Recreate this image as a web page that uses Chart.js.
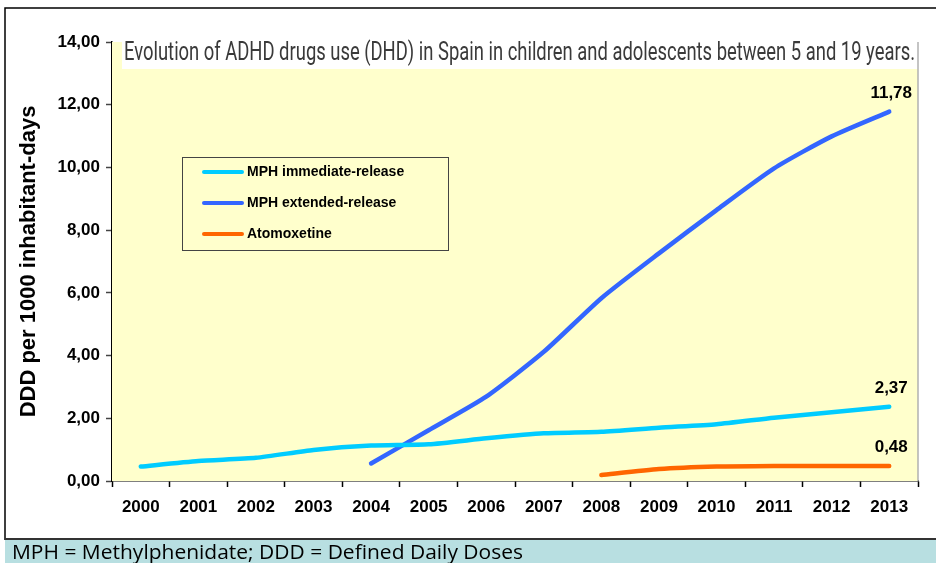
<!DOCTYPE html>
<html lang="en">
<head>
  <meta charset="UTF-8">
  <title>ADHD drugs use in Spain</title>
  <script src="https://cdn.jsdelivr.net/npm/chart.js"></script>
  <style>
    body {
      margin: 0;
      background: #fff;
    }
    #wrap {
      width: 936px;
      height: 563px;
      position: relative;
    }
  </style>
</head>
<body>
  <div id="wrap"><canvas id="adhdChart" width="936" height="563"></canvas></div>

  <script>
    const years = ['2000', '2001', '2002', '2003', '2004', '2005', '2006', '2007', '2008', '2009', '2010', '2011', '2012', '2013'];
    const mphImmediate = [0.46, 0.64, 0.74, 0.99, 1.13, 1.17, 1.36, 1.52, 1.57, 1.70, 1.81, 2.02, 2.19, 2.37];
    const mphExtended = [null, null, null, null, 0.56, 1.62, 2.69, 4.12, 5.83, 7.26, 8.64, 9.97, 10.99, 11.78];
    const atomoxetine = [null, null, null, null, null, null, null, null, 0.19, 0.38, 0.46, 0.48, 0.48, 0.48];
    const seriesNames = ['MPH immediate-release', 'MPH extended-release', 'Atomoxetine'];
    const titleText = 'Evolution of ADHD drugs use (DHD) in Spain in children and adolescents between 5 and 19 years.';
    const footerText = 'MPH = Methylphenidate; DDD = Defined Daily Doses';

    const comma = v => v.toFixed(2).replace('.', ',');

    // draws background, title box, legend box, end labels and the frame
    const decor = {
      id: 'decor',
      beforeDatasetsDraw(chart) {
        const ctx = chart.ctx, a = chart.chartArea;
        ctx.save();
        ctx.fillStyle = '#FFFFCC';
        ctx.fillRect(a.left, a.top, a.right - a.left, a.bottom - a.top);
        // title box
        ctx.fillStyle = '#fff';
        ctx.fillRect(a.left + 10, 26, a.right - a.left - 10, 43);
        // right border of plot
        ctx.strokeStyle = '#b0b0b0';
        ctx.lineWidth = 1.5;
        ctx.beginPath();
        ctx.moveTo(a.right, a.top);
        ctx.lineTo(a.right, a.bottom);
        ctx.stroke();
        // title, squeezed to width
        ctx.font = '26px Roboto';
        ctx.fillStyle = '#3a3a3a';
        ctx.textBaseline = 'alphabetic';
        const w = ctx.measureText(titleText).width;
        ctx.translate(124, 60);
        ctx.scale(791 / w, 1);
        ctx.fillText(titleText, 0, 0);
        ctx.restore();

        // legend
        ctx.save();
        ctx.strokeStyle = '#444';
        ctx.lineWidth = 1;
        ctx.strokeRect(182.5, 157.5, 266, 93);
        ctx.font = 'bold 14px "Liberation Sans", Arial';
        ctx.textBaseline = 'middle';
        chart.data.datasets.forEach((ds, i) => {
          const y = 172 + i * 31;
          ctx.strokeStyle = ds.borderColor;
          ctx.lineWidth = 4;
          ctx.lineCap = 'round';
          ctx.beginPath();
          ctx.moveTo(204, y);
          ctx.lineTo(242, y);
          ctx.stroke();
          ctx.fillStyle = '#000';
          ctx.fillText(ds.label, 247, y);
        });
        ctx.restore();
      },
      afterDatasetsDraw(chart) {
        const ctx = chart.ctx;
        ctx.save();
        ctx.font = 'bold 17px "Liberation Sans", Arial';
        ctx.fillStyle = '#000';
        ctx.textAlign = 'center';
        ctx.textBaseline = 'bottom';
        chart.data.datasets.forEach((ds, i) => {
          const meta = chart.getDatasetMeta(i);
          const last = ds.data.length - 1;
          const pt = meta.data[last];
          ctx.fillText(comma(ds.data[last]), pt.x + 2, pt.y - 10);
        });
        ctx.restore();
      },
      afterDraw(chart) {
        const ctx = chart.ctx;
        ctx.save();
        // outer frame
        ctx.strokeStyle = '#000';
        ctx.lineWidth = 1.5;
        ctx.beginPath();
        ctx.moveTo(936, 8);
        ctx.lineTo(5, 8);
        ctx.lineTo(5, 540);
        ctx.stroke();
        // footer band
        ctx.fillStyle = '#B8DFE1';
        ctx.fillRect(5, 540, 931, 23);
        ctx.strokeStyle = '#333';
        ctx.lineWidth = 2;
        ctx.beginPath();
        ctx.moveTo(5, 539);
        ctx.lineTo(936, 539);
        ctx.stroke();
        ctx.font = '20px "Open Sans"';
        ctx.fillStyle = '#000';
        ctx.textBaseline = 'alphabetic';
        const w = ctx.measureText(footerText).width;
        ctx.translate(12, 559);
        ctx.scale(511 / w, 1);
        ctx.fillText(footerText, 0, 0);
        ctx.restore();
      }
    };

    const line = (label, data, color) => ({
      label: label,
      data: data,
      borderColor: color,
      backgroundColor: color,
      borderWidth: 4.5,
      borderCapStyle: 'round',
      pointRadius: 0,
      tension: 0.2,
      fill: false
    });

    new Chart(document.getElementById('adhdChart').getContext('2d'), {
      type: 'line',
      data: {
        labels: years,
        datasets: [
          line(seriesNames[0], mphImmediate, '#00CCFF'),
          line(seriesNames[1], mphExtended, '#3366FF'),
          line(seriesNames[2], atomoxetine, '#FF6600')
        ]
      },
      options: {
        responsive: false,
        animation: false,
        layout: { padding: { top: 42, right: 18, left: 0, bottom: 0 } },
        plugins: {
          legend: { display: false },
          title: { display: false },
          tooltip: { enabled: false }
        },
        scales: {
          x: {
            offset: true,
            afterFit: s => { s.height = 82; },
            grid: { offset: true, drawOnChartArea: false, tickLength: 6, tickColor: '#000', tickWidth: 1.5 },
            border: { color: '#000', width: 1.5 },
            ticks: { color: '#000', padding: 10, maxRotation: 0, font: { family: '"Liberation Sans", Arial', size: 17, weight: 'bold' } }
          },
          y: {
            min: 0,
            max: 14,
            afterFit: s => { s.width = 112; },
            grid: { drawOnChartArea: false, tickLength: 6, tickColor: '#444', tickWidth: 1.5 },
            border: { color: '#000', width: 1.5 },
            ticks: {
              stepSize: 2,
              color: '#000',
              padding: 6,
              font: { family: '"Liberation Sans", Arial', size: 17, weight: 'bold' },
              callback: v => comma(v)
            },
            title: {
              display: true,
              text: 'DDD per 1000 inhabitant-days',
              color: '#000',
              padding: { top: 16, bottom: 0 },
              font: { family: '"Liberation Sans", Arial', size: 22, weight: 'bold' }
            }
          }
        }
      },
      plugins: [decor]
    });
  </script>
</body>
</html>
